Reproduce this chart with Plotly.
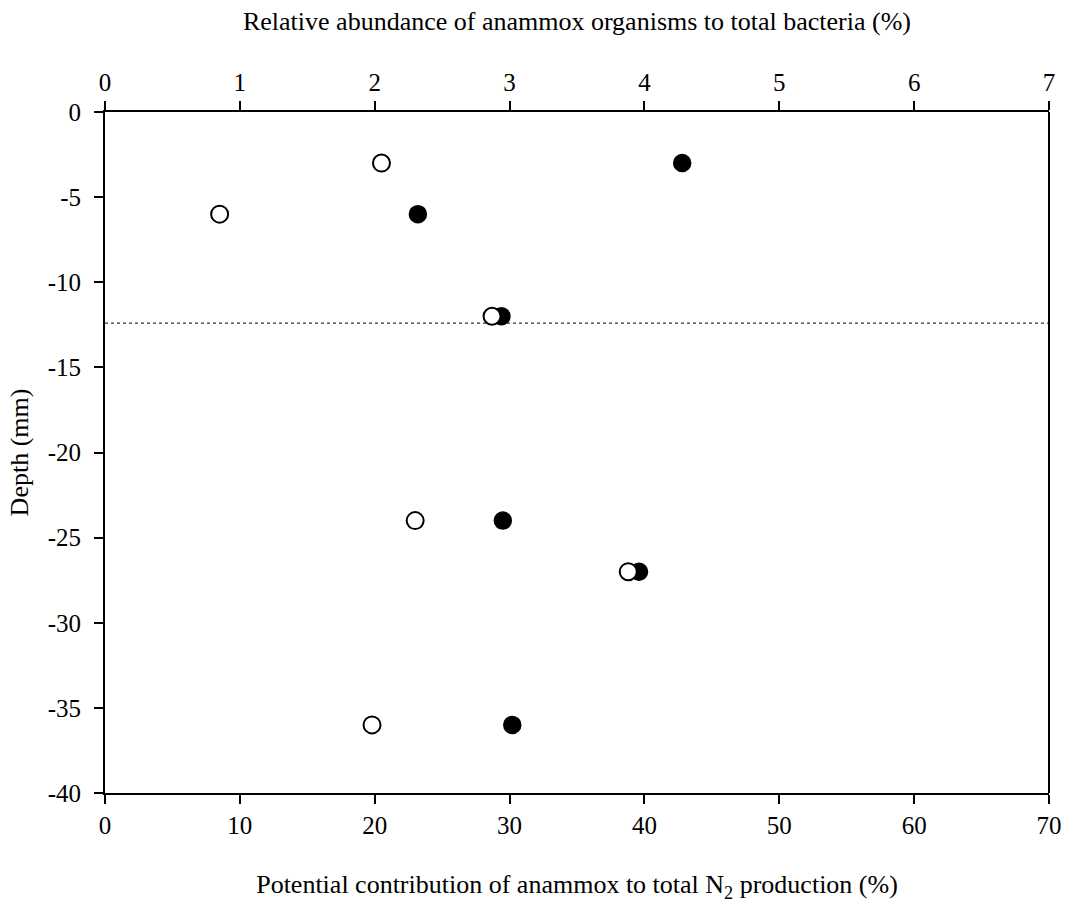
import plotly.graph_objects as go

# Data
depth = [-3, -6, -12, -24, -27, -36]
n2_contribution = [42.8, 23.2, 29.4, 29.5, 39.6, 30.2]         # bottom axis (filled)
rel_abundance = [2.05, 0.85, 2.87, 2.30, 3.88, 1.98]           # top axis (open)
boundary_depth = -12.4

y_ticks = [0, -5, -10, -15, -20, -25, -30, -35, -40]
y_tick_labels = ["0", "-5", "-10", "-15", "-20", "-25", "-30", "-35", "-40"]
x_ticks = [0, 10, 20, 30, 40, 50, 60, 70]
x2_ticks = [0, 1, 2, 3, 4, 5, 6, 7]

FONT = "Liberation Serif"

fig = go.Figure()
fig.add_trace(go.Scatter(
    x=n2_contribution, y=depth, mode="markers", xaxis="x", yaxis="y",
    marker=dict(size=17, color="black", line=dict(color="black", width=1.5)),
    showlegend=False))
fig.add_trace(go.Scatter(
    x=rel_abundance, y=depth, mode="markers", xaxis="x2", yaxis="y",
    marker=dict(size=17, color="white", line=dict(color="black", width=2)),
    showlegend=False))

fig.add_shape(type="line", xref="x", yref="y", x0=0, x1=70,
              y0=boundary_depth, y1=boundary_depth,
              line=dict(color="black", width=1, dash="dot"), layer="below")

axis_common = dict(showline=True, linecolor="black", linewidth=2,
                   ticks="outside", ticklen=9, tickwidth=2, tickcolor="black",
                   showgrid=False, zeroline=False, automargin=False,
                   tickfont=dict(family=FONT, size=25, color="black"))

fig.update_layout(
    width=1066, height=907,
    margin=dict(l=105, r=17, t=112, b=114),
    plot_bgcolor="white", paper_bgcolor="white",
    font=dict(family=FONT, color="black"),
    xaxis=dict(range=[0, 70], tickvals=x_ticks, mirror=False,
               title=dict(text="Potential contribution of anammox to total N<sub>2</sub> production (%)",
                          font=dict(family=FONT, size=26), standoff=37),
               **axis_common),
    xaxis2=dict(range=[0, 7], tickvals=x2_ticks, overlaying="x", side="top",
                anchor="y",
                title=dict(text="Relative abundance of anammox organisms to total bacteria (%)",
                           font=dict(family=FONT, size=26), standoff=31),
                **axis_common),
    yaxis=dict(range=[-40, 0], tickvals=y_ticks, ticktext=y_tick_labels,
               ticklabelstandoff=8,
               title=dict(text="Depth (mm)", font=dict(family=FONT, size=26), standoff=12),
               **axis_common),
)
# right border line
fig.add_shape(type="line", xref="paper", yref="paper", x0=1, x1=1, y0=0, y1=1,
              line=dict(color="black", width=2))

fig.write_html("out.html")
